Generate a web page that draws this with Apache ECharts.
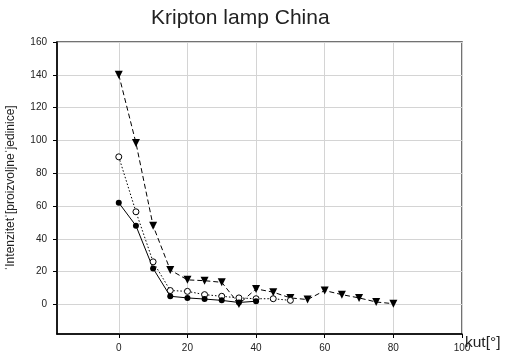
<!DOCTYPE html>
<html><head><meta charset="utf-8">
<script src="https://cdn.jsdelivr.net/npm/echarts@6/dist/echarts.min.js"></script>
<style>html,body{margin:0;padding:0;background:#fff}#c{width:506px;height:353px}</style>
</head><body><div id="c"></div>
<script>
const angles = [0,5,10,15,20,25,30,35,40,45,50,55,60,65,70,75,80];
const filledCircle = [62,48,22,5,4,3.3,2.5,1.2,2];
const openCircle = [90,56.5,26,8.5,8,6,5,4,3.5,3.5,2.5];
const triangle = [140,98.5,48,21,15,14.5,13.5,0.3,9.5,7.5,4,3,8.5,6,4,1.5,0.5];
const xTicks = [0,20,40,60,80,100];
const yTicks = [0,20,40,60,80,100,120,140,160];

function pairs(vals){ return vals.map((v,i)=>[angles[i],v]); }

const chart = echarts.init(document.getElementById('c'), null, {renderer:'canvas'});
const font = 'Liberation Sans, Arial, sans-serif';
chart.setOption({
  animation:false,
  backgroundColor:'#fff',
  title:{text:'Kripton lamp China', left:146, top:3,
    textStyle:{fontFamily:font, fontSize:21, fontWeight:'normal', color:'#222'}},
  grid:{left:57, right:44, top:42, bottom:19, show:true, borderColor:'#444', borderWidth:1.5,
    containLabel:false, outerBoundsMode:'none'},
  xAxis:{type:'value', min:-18, max:100,
    name:'kut[°]', nameLocation:'end', nameGap:3, nameMoveOverlap:false,
    nameTextStyle:{fontFamily:font, fontSize:15.5, color:'#222', verticalAlign:'top', padding:[1,0,0,0]},
    axisLine:{show:true, onZero:false, lineStyle:{color:'#000', width:1.5}},
    axisTick:{show:true, length:4, customValues:xTicks, lineStyle:{color:'#000'}},
    axisLabel:{fontFamily:font, fontSize:10, color:'#222', margin:9, customValues:xTicks},
    splitLine:{show:true, lineStyle:{color:'#d4d4d4', width:1}}},
  yAxis:{type:'value', min:-18, max:160,
    name:'ˈIntenzitetˈ[proizvoljneˈjedinice]', nameLocation:'middle', nameGap:40,
    nameTextStyle:{fontFamily:font, fontSize:12, color:'#222'},
    axisLine:{show:true, onZero:false, lineStyle:{color:'#000', width:1.5}},
    axisTick:{show:true, length:4, customValues:yTicks, lineStyle:{color:'#000'}},
    axisLabel:{fontFamily:font, fontSize:10, color:'#222', margin:10, customValues:yTicks},
    splitLine:{show:true, lineStyle:{color:'#d4d4d4', width:1}}},
  series:[
    {type:'line', data:pairs(triangle), symbol:'triangle', symbolRotate:180, symbolSize:8,
      itemStyle:{color:'#000'}, lineStyle:{color:'#000', width:1, type:[5,3]}},
    {type:'line', data:pairs(openCircle), symbol:'circle', symbolSize:6,
      itemStyle:{color:'#fff', borderColor:'#000', borderWidth:1}, lineStyle:{color:'#000', width:1, type:[1.5,2]}},
    {type:'line', data:pairs(filledCircle), symbol:'circle', symbolSize:6,
      itemStyle:{color:'#000'}, lineStyle:{color:'#000', width:1}}
  ]
});
</script></body></html>
